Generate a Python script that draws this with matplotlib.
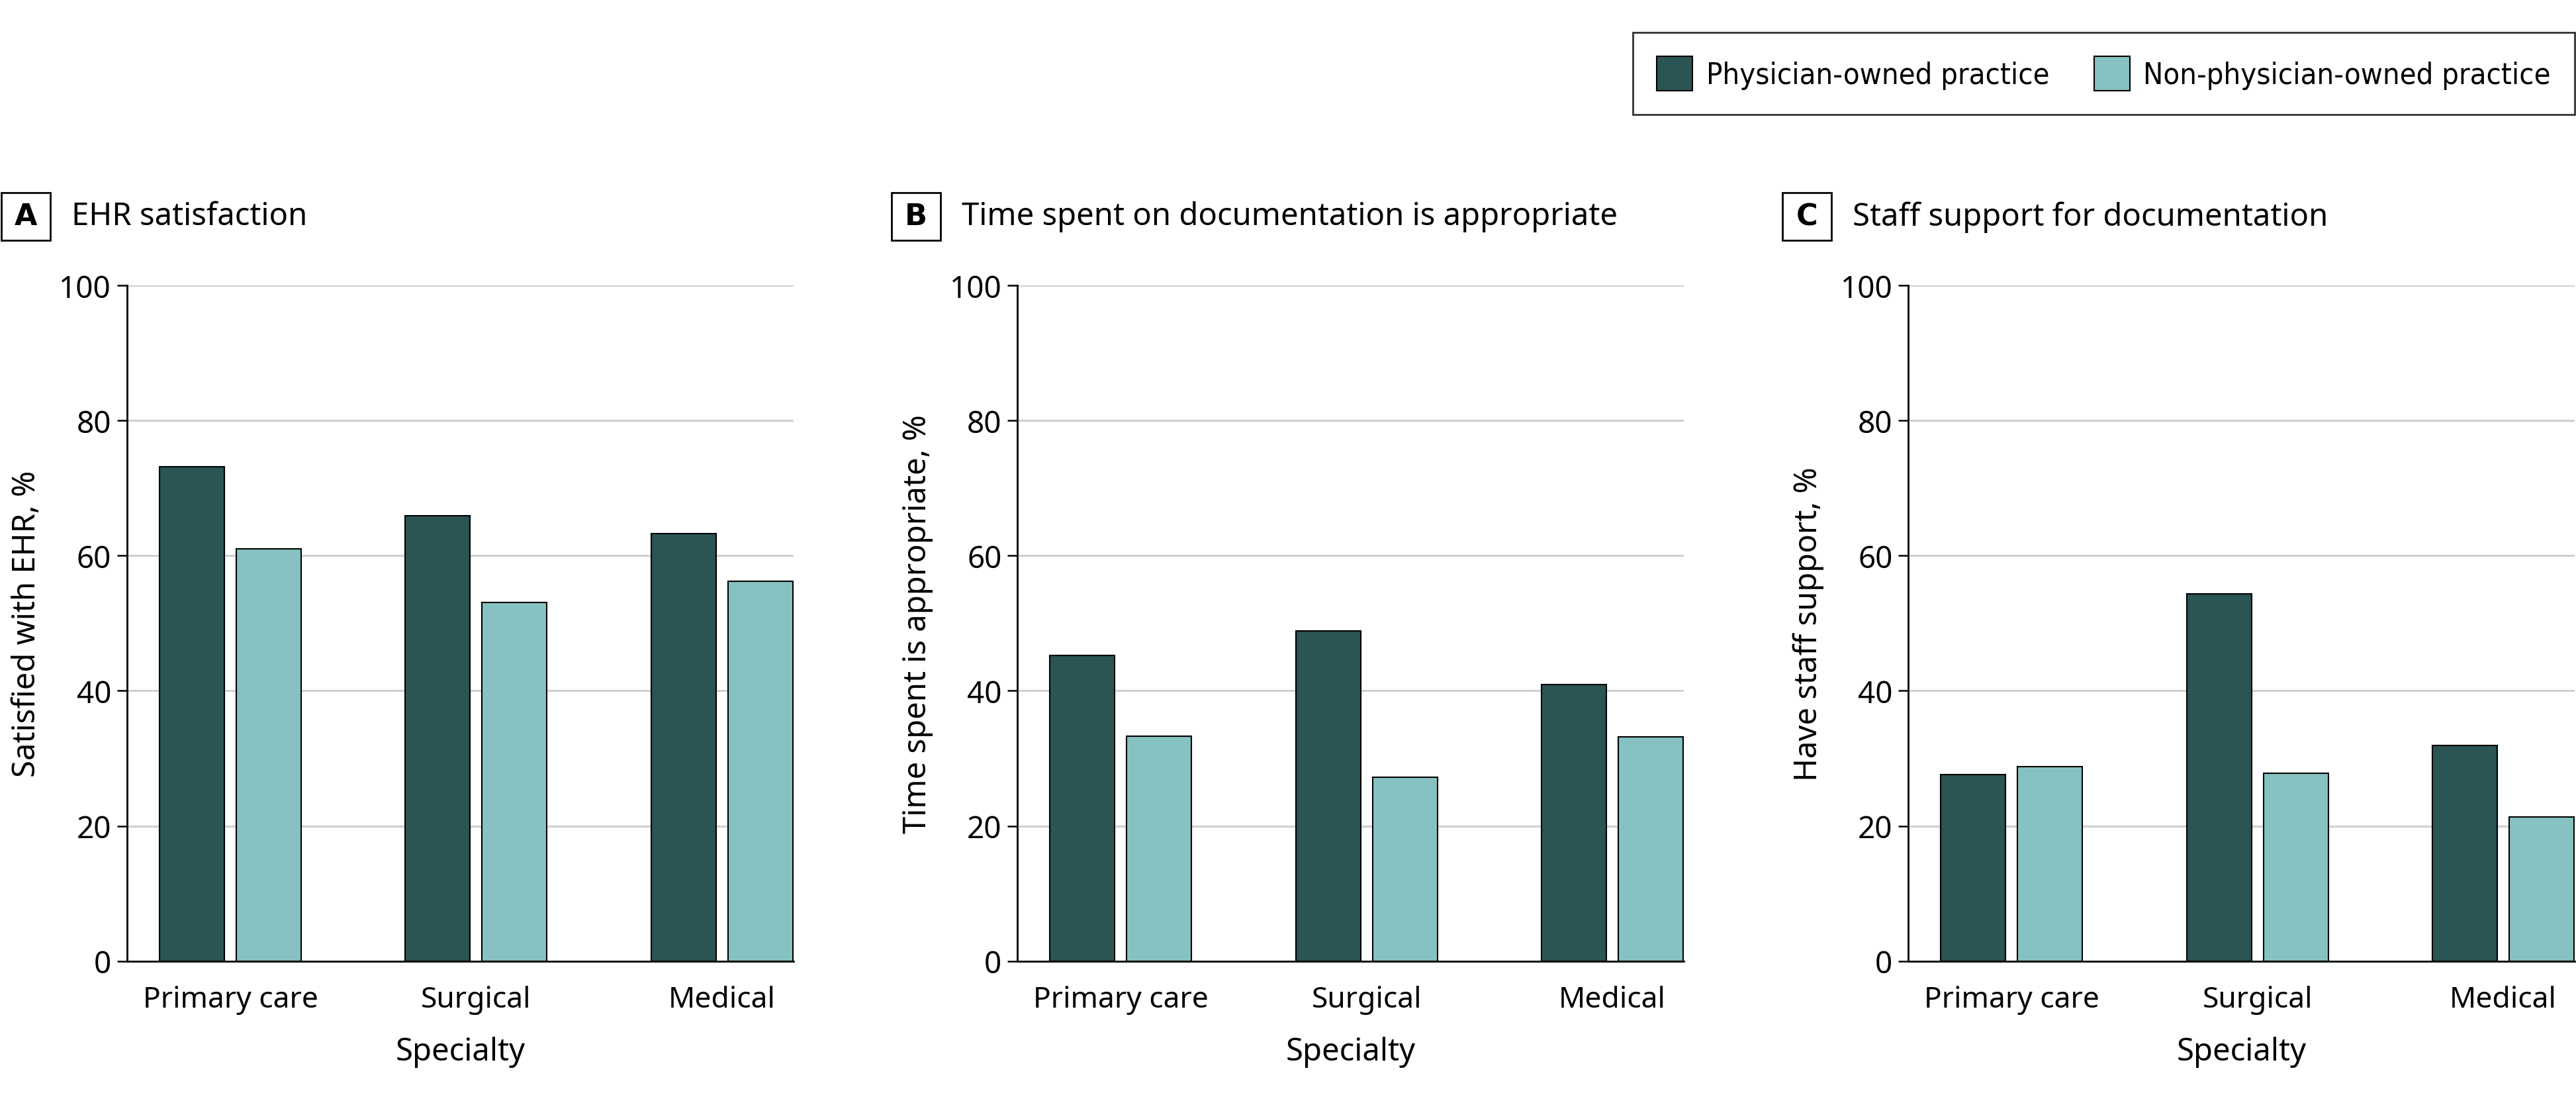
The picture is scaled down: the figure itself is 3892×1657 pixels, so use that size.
import matplotlib
matplotlib.use("Agg")
import matplotlib.pyplot as plt
from matplotlib.patches import Rectangle
import numpy as np

plt.rcParams['font.family'] = ['Noto Sans', 'DejaVu Sans']

specialties = ["Primary care", "Surgical", "Medical"]
series_names = ["Physician-owned practice", "Non-physician-owned practice"]

ehr_phys = [73.2, 65.9, 63.3]
ehr_nonphys = [61.0, 53.1, 56.2]
time_phys = [45.2, 48.9, 40.9]
time_nonphys = [33.3, 27.2, 33.2]
staff_phys = [27.6, 54.3, 31.9]
staff_nonphys = [28.8, 27.8, 21.3]

panel_letters = ["A", "B", "C"]
panel_titles = ["EHR satisfaction",
                "Time spent on documentation is appropriate",
                "Staff support for documentation"]
y_labels = ["Satisfied with EHR, %",
            "Time spent is appropriate, %",
            "Have staff support, %"]
x_label = "Specialty"
y_ticks = [0, 20, 40, 60, 80, 100]

panels = [(ehr_phys, ehr_nonphys), (time_phys, time_nonphys), (staff_phys, staff_nonphys)]

DARK = "#2B5454"
LIGHT = "#86C2C1"
GRID = "#D0D0D0"

W, H = 3892, 1658
fig = plt.figure(figsize=(W / 100, H / 100), dpi=100)

ax_lefts = [191.7, 1537, 2883]
ax_w = 1007
ax_top = 432
ax_bot = 1452.7

bw = 0.264
gap = 0.048
off = (bw + gap) / 2
x = np.arange(len(specialties))

for i, ((ph, nph), left) in enumerate(zip(panels, ax_lefts)):
    ax = fig.add_axes([left / W, 1 - ax_bot / H, ax_w / W, (ax_bot - ax_top) / H])
    ax.set_axisbelow(True)
    ax.yaxis.grid(True, color=GRID, linewidth=2.2)
    ax.bar(x - off, ph, width=bw, color=DARK, edgecolor="black", linewidth=1.5,
           label=series_names[0], zorder=3)
    ax.bar(x + off, nph, width=bw, color=LIGHT, edgecolor="black", linewidth=1.5,
           label=series_names[1], zorder=3)
    ax.set_ylim(0, 100)
    ax.set_xlim(-0.421, 2.291)
    ax.set_yticks(y_ticks)
    ax.set_xticks(x)
    ax.set_xticklabels(specialties)
    ax.tick_params(axis='x', length=0, labelsize=32, pad=26)
    ax.tick_params(axis='y', length=11, width=1.8, labelsize=33, pad=6)
    for s in ["top", "right"]:
        ax.spines[s].set_visible(False)
    for s in ["left", "bottom"]:
        ax.spines[s].set_linewidth(2)
        ax.spines[s].set_zorder(4)
    ax.set_xlabel(x_label, fontsize=34, labelpad=24)
    ax.set_ylabel(y_labels[i], fontsize=34, labelpad=18)

    # panel letter box and title
    bx = left - 190
    fig.patches.append(Rectangle((bx / W, 1 - 364 / H), 74 / W, 72 / H,
                                 transform=fig.transFigure, fill=False,
                                 edgecolor="black", linewidth=2))
    fig.text((bx + 37) / W, 1 - 328 / H, panel_letters[i], fontsize=32,
             fontweight="bold", family="DejaVu Sans", ha="center", va="center")
    fig.text((bx + 106) / W, 1 - 328 / H, panel_titles[i], fontsize=34,
             ha="left", va="center")
    if i == 0:
        handles, labels = ax.get_legend_handles_labels()

leg = fig.legend(handles, labels, loc="upper right",
                 bbox_to_anchor=(0.9995, 1 - 50 / H), bbox_transform=fig.transFigure,
                 ncol=2, frameon=True, fancybox=False, borderaxespad=0,
                 prop={"family": "DejaVu Sans", "stretch": "condensed", "size": 32.5},
                 handlelength=1.2, handleheight=1.4, handletextpad=0.45,
                 columnspacing=1.5, borderpad=0.8)
leg.get_frame().set_edgecolor("black")
leg.get_frame().set_linewidth(2)

fig.savefig("out.png", dpi=100)
